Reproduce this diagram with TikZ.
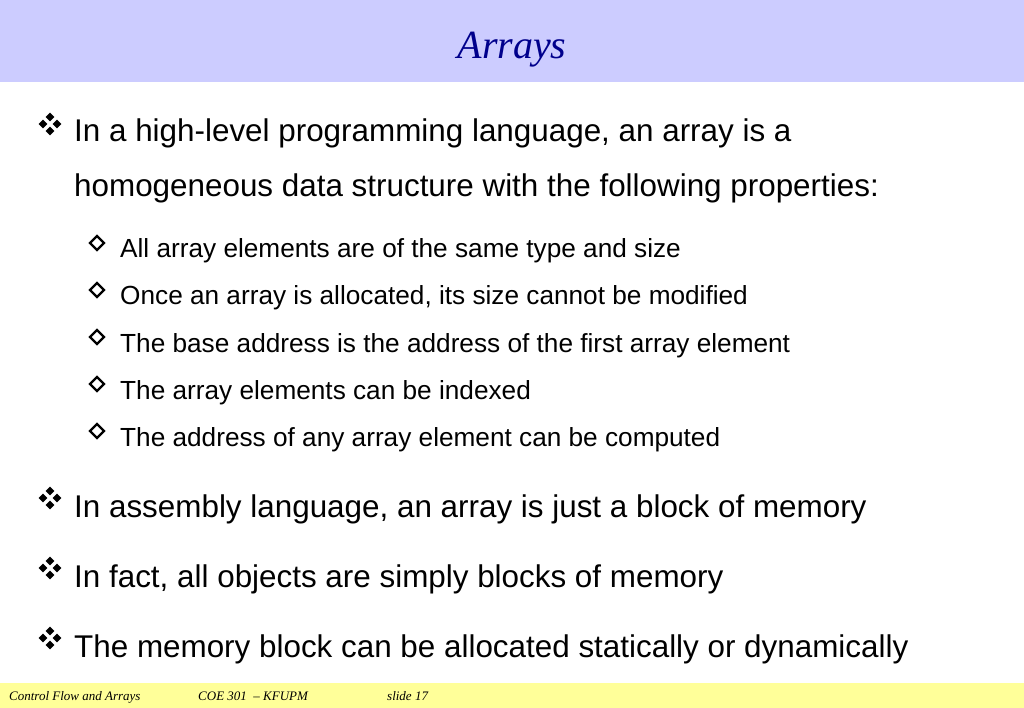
\documentclass[tikz,border=0pt]{standalone}
\usepackage{fontspec}
\setmainfont{Liberation Sans}
\newfontfamily\serifit{Liberation Serif}
\begin{document}
\begin{tikzpicture}[x=1pt,y=-1pt,
 main/.style={anchor=base west,inner sep=0pt,font=\fontsize{31.4}{31.4}\selectfont},
 sub/.style={anchor=base west,inner sep=0pt,font=\fontsize{26.2}{26.2}\selectfont},
 foot/.style={anchor=base west,inner sep=0pt,font=\serifit\itshape\fontsize{13}{13}\selectfont}]
\useasboundingbox (0,0) rectangle (1024,708);
\fill[fill={rgb,255:red,204;green,204;blue,255}] (0,0) rectangle (1024,82);
\fill[fill={rgb,255:red,255;green,255;blue,153}] (0,683) rectangle (1024,708);
\node[anchor=base,inner sep=0pt,font=\serifit\itshape\fontsize{40}{40}\selectfont,text={rgb,255:red,0;green,0;blue,140}] (title) at (512,59) {Arrays};
\newcommand\fourbullet[2]{%
 \foreach \dx/\dy in {0/-7,-7/0,7/0,0/7}{\fill ({#1+\dx},{#2+\dy}) +(0,-4.3) -- +(4.3,0) -- +(0,4.3) -- +(-4.3,0) -- cycle;}}
\newcommand\hollowbullet[2]{\draw[line width=2.2pt] (#1,#2) +(0,-7) -- +(7,0) -- +(0,7) -- +(-7,0) -- cycle;}
\fourbullet{50}{124}
\node[main] (l1) at (74,142) {In a high-level programming language, an array is a};
\node[main] (l2) at (74,197) {homogeneous data structure with the following properties:};
\foreach \y/\t [count=\i] in {258/All array elements are of the same type and size,
 305/{Once an array is allocated, its size cannot be modified},
 352/The base address is the address of the first array element,
 399/The array elements can be indexed,
 446/The address of any array element can be computed}{
 \hollowbullet{97}{\y-15}
 \node[sub] (s\i) at (120,\y) {\t};}
\fourbullet{50}{498}
\node[main] (b2) at (74,517) {In assembly language, an array is just a block of memory};
\fourbullet{50}{568}
\node[main] (b3) at (74,587) {In fact, all objects are simply blocks of memory};
\fourbullet{50}{638}
\node[main] (b4) at (74,657) {The memory block can be allocated statically or dynamically};
\node[foot] (f1) at (9,700) {Control Flow and Arrays};
\node[foot] (f2) at (198,700) {COE 301 \ \textendash{} KFUPM};
\node[foot] (f3) at (387,700) {slide 17};
\end{tikzpicture}
\end{document}
